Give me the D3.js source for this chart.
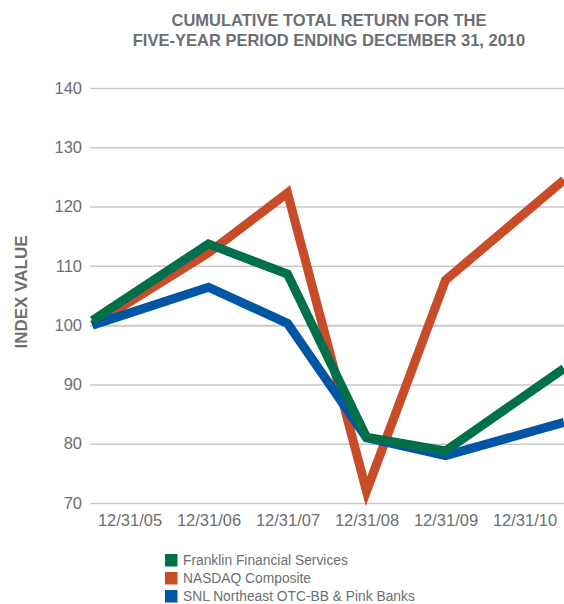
<!DOCTYPE html>
<html>
<head>
<meta charset="utf-8">
<script src="https://cdn.jsdelivr.net/npm/d3@7"></script>
<style>
  body { margin: 0; background: #fff; }
  text { font-family: "Liberation Sans", Arial, sans-serif; }
</style>
</head>
<body>
<div id="chart"></div>
<script>
// Data
const dates = ['12/31/05', '12/31/06', '12/31/07', '12/31/08', '12/31/09', '12/31/10']
// positions of the data points along the category axis (first and last sit on the plot edges)
const pointPos = [-0.47, 1, 2, 3, 4, 5.5]
const franklin = [100.8, 113.7, 108.6, 81.1, 78.8, 92.7]
const nasdaq = [100.0, 112.2, 122.3, 72.0, 107.6, 124.5]
const snl = [100.0, 106.4, 100.3, 81.0, 78.0, 83.6]
const yTicks = [70, 80, 90, 100, 110, 120, 130, 140]

const seriesNames = ['Franklin Financial Services', 'NASDAQ Composite', 'SNL Northeast OTC-BB & Pink Banks']
const seriesColors = ['#00704a', '#c94c29', '#0055a5']

const width = 564
const height = 604
const plotLeft = 90, plotRight = 564, plotTop = 88, plotBottom = 503
const grey = '#6d6e71'

const svg = d3.select('#chart')
    .append('svg')
    .attr('width', width)
    .attr('height', height)

// Scales
const xScale = d3.scaleLinear()
    .domain([-0.5, 5.5])
    .range([plotLeft, plotRight])

const yScale = d3.scaleLinear()
    .domain([70, 140])
    .range([plotBottom, plotTop])

// Title
svg.append('text')
    .attr('x', 329)
    .attr('y', 26)
    .attr('text-anchor', 'middle')
    .attr('font-size', '16.5px')
    .attr('font-weight', 'bold')
    .attr('fill', grey)
    .text('CUMULATIVE TOTAL RETURN FOR THE')
svg.append('text')
    .attr('x', 329)
    .attr('y', 46)
    .attr('text-anchor', 'middle')
    .attr('font-size', '16.5px')
    .attr('font-weight', 'bold')
    .attr('fill', grey)
    .text('FIVE-YEAR PERIOD ENDING DECEMBER 31, 2010')

// Gridlines + y axis
const yAxis = d3.axisLeft(yScale)
    .tickValues(yTicks)
    .tickSize(-(plotRight - plotLeft))
    .tickPadding(8)
const yG = svg.append('g')
    .attr('transform', 'translate(' + plotLeft + ', 0)')
    .call(yAxis)
yG.select('.domain').remove()
yG.selectAll('line')
    .attr('stroke', '#c8c8c8')
    .attr('stroke-width', d => d === 100 ? 2 : 1.5)
yG.selectAll('text')
    .attr('font-size', '16.5px')
    .attr('fill', grey)
    .attr('font-family', '"Liberation Sans", Arial, sans-serif')

// x axis labels
const xAxis = d3.axisBottom(xScale)
    .tickValues(d3.range(dates.length))
    .tickFormat(i => dates[i])
    .tickSize(0)
    .tickPadding(11)
const xG = svg.append('g')
    .attr('transform', 'translate(0, ' + plotBottom + ')')
    .call(xAxis)
xG.select('.domain').remove()
xG.selectAll('text')
    .attr('font-size', '16.5px')
    .attr('fill', grey)
    .attr('font-family', '"Liberation Sans", Arial, sans-serif')

// Y label
svg.append('text')
    .attr('transform', 'translate(27, 292) rotate(-90)')
    .attr('text-anchor', 'middle')
    .attr('font-size', '17px')
    .attr('font-weight', 'bold')
    .attr('fill', grey)
    .text('INDEX VALUE')

// Lines
const line = d3.line()
    .x((d, i) => xScale(pointPos[i]))
    .y(d => yScale(d))

const allSeries = [franklin, nasdaq, snl]
const drawOrder = [1, 2, 0]
drawOrder.forEach(k => {
    svg.append('path')
        .datum(allSeries[k])
        .attr('d', line)
        .attr('fill', 'none')
        .attr('stroke', seriesColors[k])
        .attr('stroke-width', 9)
        .attr('stroke-linejoin', 'miter')
})

// Legend
const legend = svg.append('g')
    .attr('transform', 'translate(165, 554)')
const items = legend.selectAll('g')
    .data(seriesNames)
    .enter()
    .append('g')
    .attr('transform', (d, i) => `translate(0, ${i * 18})`)
items.append('rect')
    .attr('width', 12.5)
    .attr('height', 12.5)
    .attr('fill', (d, i) => seriesColors[i])
items.append('text')
    .attr('x', 18)
    .attr('y', 11)
    .attr('font-size', '13.8px')
    .attr('fill', grey)
    .text(d => d)
</script>
</body>
</html>
